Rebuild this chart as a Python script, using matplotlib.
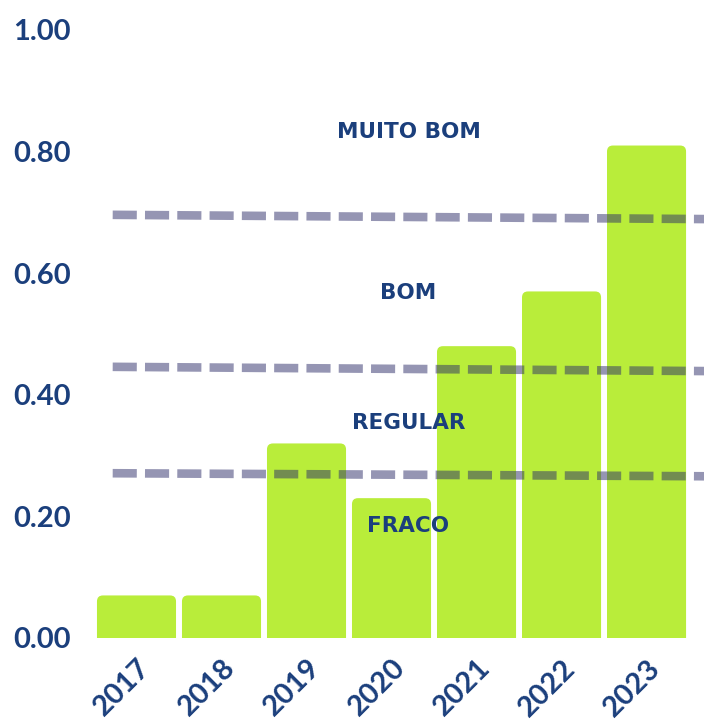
import matplotlib
matplotlib.use("Agg")
import matplotlib.pyplot as plt
from matplotlib.patches import FancyBboxPatch

# data
years = ['2017', '2018', '2019', '2020', '2021', '2022', '2023']
values = [0.07, 0.07, 0.32, 0.23, 0.48, 0.57, 0.81]

# reference levels: (start value, end value) - lines are slightly tilted
ref_lines = [(0.696, 0.689), (0.446, 0.439), (0.271, 0.266)]
ref_x = (-0.28, 6.7)

# band labels and where they sit
band_names = ['MUITO BOM', 'BOM', 'REGULAR', 'FRACO']
band_y = [0.832, 0.567, 0.354, 0.184]
band_x = 3.2

yticks = [0.0, 0.2, 0.4, 0.6, 0.8, 1.0]

bar_color = '#b9ed3a'
text_color = '#1b3f7c'
line_color = '#2d2d69'

W, H = 704, 722
fig = plt.figure(figsize=(W / 100, H / 100), dpi=100)
ax = fig.add_axes([90 / W, (H - 638) / H, 1 - 90 / W, (638 - 30) / H])

x = list(range(len(years)))
bw = 0.93
for xi, v in zip(x, values):
    patch = FancyBboxPatch((xi - bw / 2, -0.03), bw, v + 0.03,
                           boxstyle="round,pad=0,rounding_size=0.07",
                           mutation_aspect=85 / 608,
                           fc=bar_color, ec='none', zorder=2)
    ax.add_patch(patch)

for y0, y1 in ref_lines:
    ax.plot(ref_x, [y0, y1], color=line_color, alpha=0.5, lw=6.2,
            dashes=(2.8, 0.95), solid_capstyle='butt', dash_capstyle='butt',
            zorder=3)

for name, yy in zip(band_names, band_y):
    ax.text(band_x, yy, name, ha='center', va='center', color=text_color,
            fontsize=15.5, fontweight='bold', family='DejaVu Sans', zorder=4)

ax.set_xlim(-0.547, 6.676)
ax.set_ylim(0, 1.0)
ax.set_yticks(yticks)
ax.set_yticklabels(['%.2f' % t for t in yticks])
ax.set_xticks(x)
ax.set_xticklabels(years, rotation=45, ha='right', rotation_mode='anchor')
for s in ax.spines.values():
    s.set_visible(False)
ax.tick_params(axis='both', length=0, colors=text_color)
ax.tick_params(axis='y', pad=14)
ax.tick_params(axis='x', pad=12)
for lab in ax.get_yticklabels() + ax.get_xticklabels():
    lab.set_fontsize(21)
    lab.set_fontweight('bold')
    lab.set_family('Lato')
    lab.set_color(text_color)
for lab in ax.get_xticklabels():
    lab.set_x(lab.get_position()[0] + 0.15)

fig.savefig('out.png', dpi=100)
